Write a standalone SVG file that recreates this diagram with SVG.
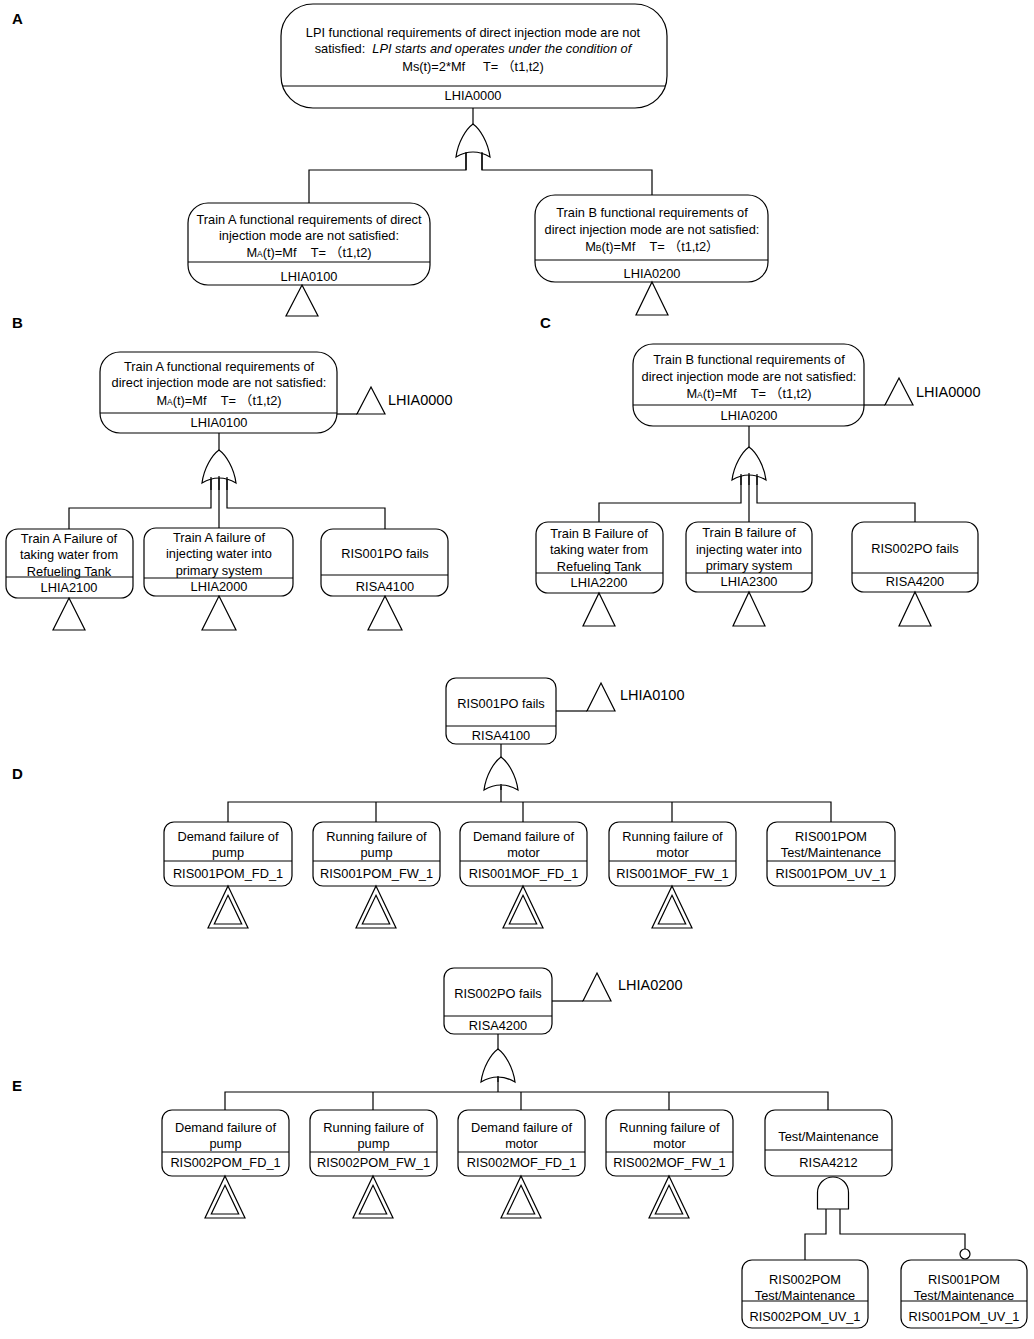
<svg xmlns="http://www.w3.org/2000/svg" xmlns:xlink="http://www.w3.org/1999/xlink" width="1034" height="1339" viewBox="0 0 1034 1339">
<style>
.box{fill:#fff;stroke:#000;stroke-width:1.2}
.ln{fill:none;stroke:#000;stroke-width:1.2}
.gate{fill:#fff;stroke:#000;stroke-width:1.2}
.t{font-family:"Liberation Sans","Noto Sans CJK SC",sans-serif;font-size:12.8px;text-anchor:middle;fill:#000}
.lbl{font-family:"Liberation Sans","Noto Sans CJK SC",sans-serif;font-size:14.5px;fill:#000}
.sec{font-family:"Liberation Sans",sans-serif;font-size:15px;font-weight:bold;fill:#000}
.sub{font-size:8.5px}
</style>
<defs>
<path id="or" d="M0,0 C7,5 15,18 17,33 Q0,23 -17,33 C-15,18 -7,5 0,0 Z"/>
<path id="and" d="M-15.5,32 L-15.5,15.5 A15.5,15.5 0 0 1 15.5,15.5 L15.5,32 Z"/>
<g id="dtri">
<path d="M0,0 L20,42 L-20,42 Z" class="ln"/>
<path d="M0,9.3 L13.7,38 L-13.7,38 Z" class="ln"/>
</g>
</defs>
<rect width="1034" height="1339" fill="#fff"/>

<g id="section-labels">
<text class="sec" x="12" y="24">A</text>
<text class="sec" x="12" y="328">B</text>
<text class="sec" x="540" y="328">C</text>
<text class="sec" x="12" y="779">D</text>
<text class="sec" x="12" y="1091">E</text>
</g>

<g id="connectors">
<!-- A -->
<path class="ln" d="M473,108 V124"/>
<path class="ln" d="M466,152 V170 H309 V203 M482,152 V170 H652 V195"/>
<!-- B -->
<path class="ln" d="M219,433 V450"/>
<path class="ln" d="M211,478 V508 H69 V529 M227,478 V508 H385 V529 M219,477 V528"/>
<path class="ln" d="M337,414 H357"/>
<!-- C -->
<path class="ln" d="M749,426 V447"/>
<path class="ln" d="M741,475 V503 H599 V522 M757,475 V503 H915 V522 M749,474 V522"/>
<path class="ln" d="M864,405 H885"/>
<!-- D -->
<path class="ln" d="M501,744 V760"/>
<path class="ln" d="M501,786 V802 M228,822 V802 H831 V822 M376,802 V822 M523,802 V822 M672,802 V822"/>
<path class="ln" d="M556,711 H587"/>
<!-- E -->
<path class="ln" d="M498,1034 V1049"/>
<path class="ln" d="M498,1077 V1092 M225,1110 V1092 H828 V1110 M373,1092 V1110 M521,1092 V1110 M669,1092 V1110"/>
<path class="ln" d="M552,1001 H583"/>
<path class="ln" d="M826,1209 V1234 H805 V1260 M840,1209 V1234 H965 V1249"/>
<circle class="box" cx="965" cy="1254" r="5"/>
</g>

<g id="gates">
<use xlink:href="#or" href="#or" class="gate" x="473" y="124"/>
<use xlink:href="#or" href="#or" class="gate" x="219" y="450"/>
<use xlink:href="#or" href="#or" class="gate" x="749" y="447"/>
<use xlink:href="#or" href="#or" class="gate" x="501" y="757"/>
<use xlink:href="#or" href="#or" class="gate" x="498" y="1049"/>
<use xlink:href="#and" href="#and" class="gate" x="833" y="1177"/>
</g>
<g id="gate-legs">
<path class="ln" d="M466,152 V170 M482,152 V170"/>
<path class="ln" d="M211,477 V490 M227,477 V490 M219,476 V490"/>
<path class="ln" d="M741,474 V485 M757,474 V485 M749,473 V485"/>
<path class="ln" d="M501,784 V790"/>
<path class="ln" d="M498,1076 V1082"/>
</g>

<!-- Section A -->
<g id="LHIA0000">
<rect class="box" x="281" y="4" width="386" height="104" rx="32"/>
<line class="ln" x1="283" y1="86" x2="665" y2="86"/>
<text class="t" x="473" y="37">LPI functional requirements of direct injection mode are not</text>
<text class="t" x="473" y="53">satisfied:&#160; <tspan font-style="italic">LPI starts and operates under the condition of</tspan></text>
<text class="t" x="473" y="71">Ms(t)=2*Mf&#160;&#160;&#160;&#160;&#160;T=&#160;（t1,t2)</text>
<text class="t" x="473" y="100">LHIA0000</text>
</g>
<g id="A-LHIA0100">
<rect class="box" x="188" y="203" width="242" height="82" rx="20"/>
<line class="ln" x1="188" y1="262" x2="430" y2="262"/>
<text class="t" x="309" y="224">Train A functional requirements of direct</text>
<text class="t" x="309" y="240">injection mode are not satisfied:</text>
<text class="t" x="309" y="257">M<tspan class="sub">A</tspan>(t)=Mf&#160;&#160;&#160;&#160;T=&#160;（t1,t2)</text>
<text class="t" x="309" y="281">LHIA0100</text>
<path class="ln" d="M302,285 L318,316 L286,316 Z"/>
</g>
<g id="A-LHIA0200">
<rect class="box" x="535" y="195" width="233" height="87" rx="20"/>
<line class="ln" x1="535" y1="260" x2="768" y2="260"/>
<text class="t" x="652" y="217">Train B functional requirements of</text>
<text class="t" x="652" y="234">direct injection mode are not satisfied:</text>
<text class="t" x="652" y="251">M<tspan class="sub">B</tspan>(t)=Mf&#160;&#160;&#160;&#160;T=&#160;（t1,t2）</text>
<text class="t" x="652" y="278">LHIA0200</text>
<path class="ln" d="M652,282 L668,315 L636,315 Z"/>
</g>

<!-- Section B -->
<g id="B-LHIA0100">
<rect class="box" x="100" y="352" width="237" height="81" rx="20"/>
<line class="ln" x1="100" y1="413" x2="337" y2="413"/>
<text class="t" x="219" y="371">Train A functional requirements of</text>
<text class="t" x="219" y="387">direct injection mode are not satisfied:</text>
<text class="t" x="219" y="405">M<tspan class="sub">A</tspan>(t)=Mf&#160;&#160;&#160;&#160;T=&#160;（t1,t2)</text>
<text class="t" x="219" y="427">LHIA0100</text>
</g>
<g id="B-transfer-LHIA0000">
<path class="ln" d="M371,387 L385,414 L357,414 Z"/>
<text class="lbl" x="388" y="405">LHIA0000</text>
</g>
<g id="LHIA2100">
<rect class="box" x="6" y="529" width="127" height="69" rx="12"/>
<line class="ln" x1="6" y1="577" x2="133" y2="577"/>
<text class="t" x="69" y="542.5">Train A Failure of</text>
<text class="t" x="69" y="559">taking water from</text>
<text class="t" x="69" y="575.5">Refueling Tank</text>
<text class="t" x="69" y="591.5">LHIA2100</text>
<path class="ln" d="M69,598 L85,630 L53,630 Z"/>
</g>
<g id="LHIA2000">
<rect class="box" x="144" y="528" width="149" height="68" rx="12"/>
<line class="ln" x1="144" y1="578" x2="293" y2="578"/>
<text class="t" x="219" y="542">Train A failure of</text>
<text class="t" x="219" y="558">injecting water into</text>
<text class="t" x="219" y="574.5">primary system</text>
<text class="t" x="219" y="590.5">LHIA2000</text>
<path class="ln" d="M219,596 L236,630 L202,630 Z"/>
</g>
<g id="B-RISA4100">
<rect class="box" x="321" y="529" width="127" height="67" rx="12"/>
<line class="ln" x1="321" y1="575" x2="448" y2="575"/>
<text class="t" x="385" y="557.5">RIS001PO fails</text>
<text class="t" x="385" y="590.5">RISA4100</text>
<path class="ln" d="M385,596 L402,630 L368,630 Z"/>
</g>

<!-- Section C -->
<g id="C-LHIA0200">
<rect class="box" x="633" y="344" width="231" height="82" rx="20"/>
<line class="ln" x1="633" y1="405" x2="864" y2="405"/>
<text class="t" x="749" y="363.5">Train B functional requirements of</text>
<text class="t" x="749" y="380.5">direct injection mode are not satisfied:</text>
<text class="t" x="749" y="397.5">M<tspan class="sub">A</tspan>(t)=Mf&#160;&#160;&#160;&#160;T=&#160;（t1,t2)</text>
<text class="t" x="749" y="419.5">LHIA0200</text>
</g>
<g id="C-transfer-LHIA0000">
<path class="ln" d="M899,378 L913,405 L885,405 Z"/>
<text class="lbl" x="916" y="397">LHIA0000</text>
</g>
<g id="LHIA2200">
<rect class="box" x="536" y="522" width="127" height="71" rx="12"/>
<line class="ln" x1="536" y1="573" x2="663" y2="573"/>
<text class="t" x="599" y="537.5">Train B Failure of</text>
<text class="t" x="599" y="553.5">taking water from</text>
<text class="t" x="599" y="570.5">Refueling Tank</text>
<text class="t" x="599" y="586.5">LHIA2200</text>
<path class="ln" d="M599,593 L615,626 L583,626 Z"/>
</g>
<g id="LHIA2300">
<rect class="box" x="686" y="522" width="126" height="70" rx="12"/>
<line class="ln" x1="686" y1="573" x2="812" y2="573"/>
<text class="t" x="749" y="536.5">Train B failure of</text>
<text class="t" x="749" y="553.5">injecting water into</text>
<text class="t" x="749" y="569.5">primary system</text>
<text class="t" x="749" y="585.5">LHIA2300</text>
<path class="ln" d="M749,592 L765,626 L733,626 Z"/>
</g>
<g id="C-RISA4200">
<rect class="box" x="852" y="522" width="126" height="70" rx="12"/>
<line class="ln" x1="852" y1="573" x2="978" y2="573"/>
<text class="t" x="915" y="552.5">RIS002PO fails</text>
<text class="t" x="915" y="585.5">RISA4200</text>
<path class="ln" d="M915,592 L931,626 L899,626 Z"/>
</g>

<!-- Section D -->
<g id="D-RISA4100">
<rect class="box" x="446" y="678" width="110" height="66" rx="10"/>
<line class="ln" x1="446" y1="726" x2="556" y2="726"/>
<text class="t" x="501" y="707.5">RIS001PO fails</text>
<text class="t" x="501" y="740">RISA4100</text>
</g>
<g id="D-transfer-LHIA0100">
<path class="ln" d="M601,683 L615,711 L587,711 Z"/>
<text class="lbl" x="620" y="700">LHIA0100</text>
</g>
<g id="RIS001POM_FD_1">
<rect class="box" x="164" y="822" width="128" height="64" rx="10"/>
<line class="ln" x1="164" y1="861" x2="292" y2="861"/>
<text class="t" x="228" y="840.5">Demand failure of</text>
<text class="t" x="228" y="857">pump</text>
<text class="t" x="228" y="877.5">RIS001POM_FD_1</text>
<use xlink:href="#dtri" href="#dtri" x="228" y="886"/>
</g>
<g id="RIS001POM_FW_1">
<rect class="box" x="313" y="822" width="127" height="64" rx="10"/>
<line class="ln" x1="313" y1="861" x2="440" y2="861"/>
<text class="t" x="376.5" y="840.5">Running failure of</text>
<text class="t" x="376.5" y="857">pump</text>
<text class="t" x="376.5" y="877.5">RIS001POM_FW_1</text>
<use xlink:href="#dtri" href="#dtri" x="376" y="886"/>
</g>
<g id="RIS001MOF_FD_1">
<rect class="box" x="460" y="822" width="127" height="64" rx="10"/>
<line class="ln" x1="460" y1="861" x2="587" y2="861"/>
<text class="t" x="523.5" y="840.5">Demand failure of</text>
<text class="t" x="523.5" y="857">motor</text>
<text class="t" x="523.5" y="877.5">RIS001MOF_FD_1</text>
<use xlink:href="#dtri" href="#dtri" x="523" y="886"/>
</g>
<g id="RIS001MOF_FW_1">
<rect class="box" x="609" y="822" width="127" height="64" rx="10"/>
<line class="ln" x1="609" y1="861" x2="736" y2="861"/>
<text class="t" x="672.5" y="840.5">Running failure of</text>
<text class="t" x="672.5" y="857">motor</text>
<text class="t" x="672.5" y="877.5">RIS001MOF_FW_1</text>
<use xlink:href="#dtri" href="#dtri" x="672" y="886"/>
</g>
<g id="RIS001POM_UV_1">
<rect class="box" x="767" y="822" width="128" height="64" rx="10"/>
<line class="ln" x1="767" y1="861" x2="895" y2="861"/>
<text class="t" x="831" y="840.5">RIS001POM</text>
<text class="t" x="831" y="857">Test/Maintenance</text>
<text class="t" x="831" y="877.5">RIS001POM_UV_1</text>
</g>

<!-- Section E -->
<g id="E-RISA4200">
<rect class="box" x="444" y="968" width="108" height="66" rx="10"/>
<line class="ln" x1="444" y1="1016" x2="552" y2="1016"/>
<text class="t" x="498" y="997.5">RIS002PO fails</text>
<text class="t" x="498" y="1030">RISA4200</text>
</g>
<g id="E-transfer-LHIA0200">
<path class="ln" d="M597,973 L611,1001 L583,1001 Z"/>
<text class="lbl" x="618" y="990">LHIA0200</text>
</g>
<g id="RIS002POM_FD_1">
<rect class="box" x="162" y="1110" width="127" height="66" rx="10"/>
<line class="ln" x1="162" y1="1152" x2="289" y2="1152"/>
<text class="t" x="225.5" y="1131.5">Demand failure of</text>
<text class="t" x="225.5" y="1147.5">pump</text>
<text class="t" x="225.5" y="1166.5">RIS002POM_FD_1</text>
<use xlink:href="#dtri" href="#dtri" x="225" y="1176"/>
</g>
<g id="RIS002POM_FW_1">
<rect class="box" x="310" y="1110" width="127" height="66" rx="10"/>
<line class="ln" x1="310" y1="1152" x2="437" y2="1152"/>
<text class="t" x="373.5" y="1131.5">Running failure of</text>
<text class="t" x="373.5" y="1147.5">pump</text>
<text class="t" x="373.5" y="1166.5">RIS002POM_FW_1</text>
<use xlink:href="#dtri" href="#dtri" x="373" y="1176"/>
</g>
<g id="RIS002MOF_FD_1">
<rect class="box" x="458" y="1110" width="127" height="66" rx="10"/>
<line class="ln" x1="458" y1="1152" x2="585" y2="1152"/>
<text class="t" x="521.5" y="1131.5">Demand failure of</text>
<text class="t" x="521.5" y="1147.5">motor</text>
<text class="t" x="521.5" y="1166.5">RIS002MOF_FD_1</text>
<use xlink:href="#dtri" href="#dtri" x="521" y="1176"/>
</g>
<g id="RIS002MOF_FW_1">
<rect class="box" x="606" y="1110" width="127" height="66" rx="10"/>
<line class="ln" x1="606" y1="1152" x2="733" y2="1152"/>
<text class="t" x="669.5" y="1131.5">Running failure of</text>
<text class="t" x="669.5" y="1147.5">motor</text>
<text class="t" x="669.5" y="1166.5">RIS002MOF_FW_1</text>
<use xlink:href="#dtri" href="#dtri" x="669" y="1176"/>
</g>
<g id="RISA4212">
<rect class="box" x="765" y="1110" width="127" height="66" rx="10"/>
<line class="ln" x1="765" y1="1150" x2="892" y2="1150"/>
<text class="t" x="828.5" y="1140.5">Test/Maintenance</text>
<text class="t" x="828.5" y="1166.5">RISA4212</text>
</g>
<g id="RIS002POM_UV_1">
<rect class="box" x="742" y="1260" width="126" height="68" rx="10"/>
<line class="ln" x1="742" y1="1301" x2="868" y2="1301"/>
<text class="t" x="805" y="1283.5">RIS002POM</text>
<text class="t" x="805" y="1299.5">Test/Maintenance</text>
<text class="t" x="805" y="1320.5">RIS002POM_UV_1</text>
</g>
<g id="RIS001POM_UV_1">
<rect class="box" x="901" y="1260" width="126" height="68" rx="10"/>
<line class="ln" x1="901" y1="1301" x2="1027" y2="1301"/>
<text class="t" x="964" y="1283.5">RIS001POM</text>
<text class="t" x="964" y="1299.5">Test/Maintenance</text>
<text class="t" x="964" y="1320.5">RIS001POM_UV_1</text>
</g>
</svg>
